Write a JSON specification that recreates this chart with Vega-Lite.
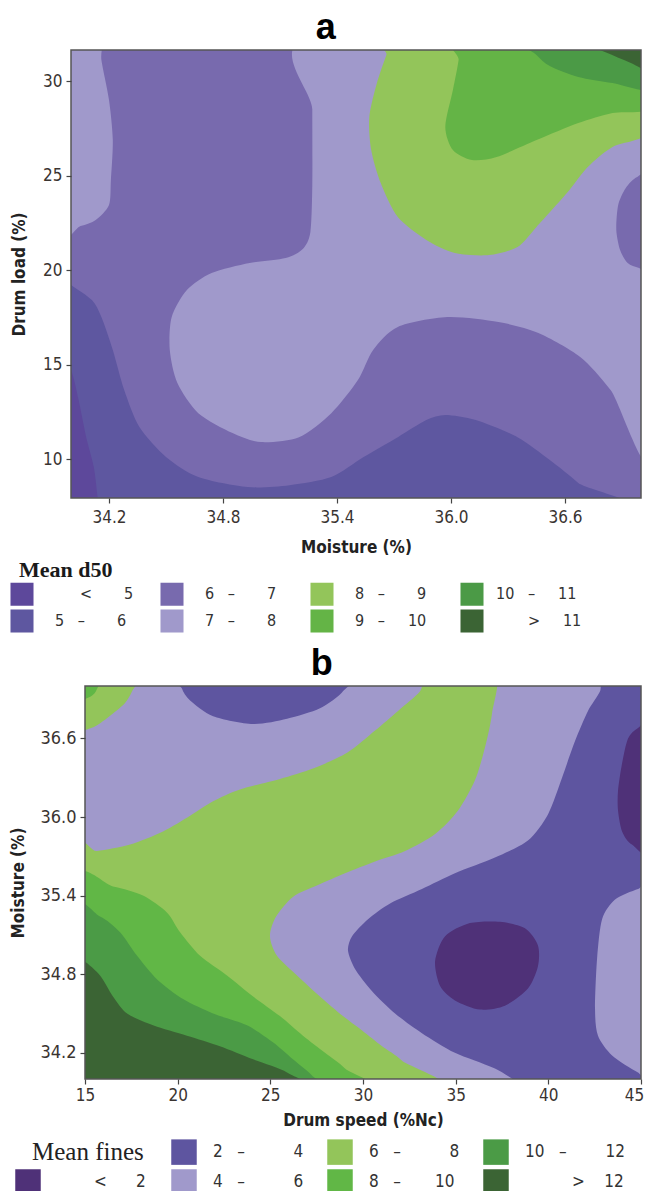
{
  "$schema": "https://vega.github.io/schema/vega-lite/v6.json",
  "padding": {"left": 9, "top": 10, "right": 0, "bottom": 0},
  "spacing": 13,
  "resolve": {"scale": {"color": "independent"}, "legend": {"color": "independent"}},
  "config": {
    "axis": {"domain": false, "grid": false, "tickSize": 5, "tickColor": "#444", "tickWidth": 1.2,
      "labelFont": "DejaVu Sans Condensed, Liberation Sans Narrow, DejaVu Sans", "labelFontSize": 17, "labelColor": "#3a3431",
      "labelPadding": 4, "labelFlush": false, "labelOverlap": false,
      "titleFont": "DejaVu Sans Condensed, Liberation Sans Narrow, DejaVu Sans", "titleFontSize": 17, "titleFontWeight": "bold", "titleColor": "#222"},
    "legend": {"labelFont": "DejaVu Sans Condensed, Liberation Sans Narrow, DejaVu Sans", "labelColor": "#333", "labelLimit": 400,
      "symbolType": "square", "symbolStrokeWidth": 0, "padding": 0, "gridAlign": "all", "direction": "horizontal", "columns": 4},
    "title": {"font": "Liberation Sans", "fontSize": 36, "fontWeight": "bold", "color": "#000", "anchor": "middle", "frame": "bounds", "offset": 2}
  },
  "vconcat": [
    {
      "width": 570, "height": 448,
      "title": {"text": "a"},
      "view": {"fill": "#786aae", "stroke": null},
      "encoding": {
        "x": {"field": "x", "type": "quantitative", "scale": {"domain": [34, 37], "nice": false, "zero": false},
          "axis": {"title": "Moisture (%)", "values": [34.2, 34.8, 35.4, 36.0, 36.6], "format": ".1f", "labelPadding": 6, "titlePadding": 14, "zindex": 2}},
        "y": {"field": "y", "type": "quantitative", "scale": {"domain": [7.95, 31.65], "nice": false, "zero": false},
          "axis": {"title": "Drum load (%)", "values": [10, 15, 20, 25, 30], "titlePadding": 14, "zindex": 2}}
      },
      "layer": [
        {
          "data": {"name": "pa"},
          "mark": {"type": "line", "filled": true, "interpolate": "cardinal-closed", "tension": 0.2, "clip": true, "strokeWidth": 0},
          "encoding": {
            "color": {"field": "c", "type": "nominal",
              "scale": {"domain": ["a1", "a3", "a5", "a7", "a2", "a4", "a6", "a8"],
                "range": ["#5d489b", "#786aae", "#93c55a", "#4b9a46", "#5e57a0", "#a099cb", "#64b446", "#3b6434"]},
              "legend": {"title": "Mean d50", "orient": "none", "legendX": -61, "legendY": 510,
                "columnPadding": 26, "rowPadding": 3, "symbolSize": 530, "labelOffset": 12, "labelFontSize": 16,
                "titleFont": "Liberation Serif", "titleFontSize": 22, "titleFontWeight": "bold", "titleColor": "#1a1a1a", "titlePadding": 0,
                "labelExpr": "{'a1':'<\u00a0\u00a0\u00a0\u00a0\u00a0\u20075','a2':'5\u00a0\u00a0\u00a0\u2013\u00a0\u00a0\u00a0\u00a0\u00a0\u20076','a3':'6\u00a0\u00a0\u00a0\u2013\u00a0\u00a0\u00a0\u00a0\u00a0\u20077','a4':'7\u00a0\u00a0\u00a0\u2013\u00a0\u00a0\u00a0\u00a0\u00a0\u20078','a5':'8\u00a0\u00a0\u00a0\u2013\u00a0\u00a0\u00a0\u00a0\u00a0\u20079','a6':'9\u00a0\u00a0\u00a0\u2013\u00a0\u00a0\u00a0\u00a0\u00a010','a7':'10\u00a0\u00a0\u00a0\u2013\u00a0\u00a0\u00a0\u00a0\u00a011','a8':'>\u00a0\u00a0\u00a0\u00a0\u00a011'}[datum.value]",
                "encode": {
                  "title": {"update": {"dx": {"value": 9}}},
                  "labels": {"update": {"dx": {"signal": "datum.value === 'a1' ? 34 : (datum.value === 'a8' ? 32 : (datum.value === 'a7' ? 0 : 9))"}}}}}},
            "detail": {"field": "p"},
            "order": {"value": null}
          }
        },
        {
          "data": {"name": "fa"},
          "mark": {"type": "rect", "filled": false, "stroke": "#555", "strokeWidth": 1.5},
          "encoding": {"x2": {"field": "x2"}, "y2": {"field": "y2"}}
        }
      ]
    },
    {
      "width": 570, "height": 393,
      "title": {"text": "b", "dx": -5},
      "view": {"stroke": null},
      "encoding": {
        "x": {"field": "x", "type": "quantitative", "scale": {"domain": [14.2446, 45], "nice": false, "zero": false},
          "axis": {"title": "Drum speed (%Nc)", "values": [15, 20, 25, 30, 35, 40, 45], "titleX": 292, "labelPadding": 3, "titlePadding": 9, "zindex": 2,
            "labelOffset": {"condition": {"test": "datum.value === 45", "value": -7}, "value": 0}}},
        "y": {"field": "y", "type": "quantitative", "scale": {"domain": [34, 37], "nice": false, "zero": false},
          "axis": {"title": "Moisture (%)", "values": [34.2, 34.8, 35.4, 36.0, 36.6], "format": ".1f", "offset": -14, "labelFontSize": 18, "titlePadding": 12, "zindex": 2}}
      },
      "layer": [
        {
          "data": {"name": "fb"},
          "mark": {"type": "rect", "color": "#a099cb"},
          "encoding": {"x2": {"field": "x2"}, "y2": {"field": "y2"}}
        },
        {
          "data": {"name": "pb"},
          "mark": {"type": "line", "filled": true, "interpolate": "cardinal-closed", "tension": 0.2, "clip": true, "strokeWidth": 0},
          "encoding": {
            "color": {"field": "c", "type": "nominal",
              "scale": {"domain": ["t", "b2", "b4", "b6", "b1", "b3", "b5", "b7"],
                "range": ["transparent", "#5e55a0", "#93c55a", "#4b9b46", "#4f3178", "#a099cb", "#61b746", "#3b6434"]},
              "legend": {"title": null, "orient": "none", "legendX": -56, "legendY": 453,
                "columnPadding": 14, "rowPadding": 4, "symbolSize": 650, "labelOffset": 16, "labelFontSize": 17,
                "labelExpr": "{'t':'Mean fines','b2':'2\u00a0\u00a0\u00a0\u2013\u00a0\u00a0\u00a0\u00a0\u00a0\u00a0\u00a0\u00a0\u00a0\u00a04','b3':'4\u00a0\u00a0\u00a0\u2013\u00a0\u00a0\u00a0\u00a0\u00a0\u00a0\u00a0\u00a0\u00a0\u00a06','b4':'6\u00a0\u00a0\u00a0\u2013\u00a0\u00a0\u00a0\u00a0\u00a0\u00a0\u00a0\u00a0\u00a0\u00a08','b5':'8\u00a0\u00a0\u00a0\u2013\u00a0\u00a0\u00a0\u00a0\u00a0\u00a0\u00a010','b6':'10\u00a0\u00a0\u00a0\u2013\u00a0\u00a0\u00a0\u00a0\u00a0\u00a0\u00a0\u00a012','b1':'<\u00a0\u00a0\u00a0\u00a0\u00a0\u00a02','b7':'>\u00a0\u00a0\u00a0\u00a012'}[datum.value]",
                "encode": {"labels": {"update": {
                  "font": {"signal": "datum.value === 't' ? 'Liberation Serif' : 'DejaVu Sans Condensed, Liberation Sans Narrow, DejaVu Sans'"},
                  "fontSize": {"signal": "datum.value === 't' ? 25 : 17"},
                  "fill": {"signal": "datum.value === 't' ? '#222' : '#333'"},
                  "dx": {"signal": "datum.value === 't' ? -25 : (datum.value === 'b1' ? 37 : (datum.value === 'b7' ? 47 : 0))"}}}}}},
            "detail": {"field": "p"},
            "order": {"value": null}
          }
        },
        {
          "data": {"name": "wb"},
          "mark": {"type": "rect", "color": "white", "clip": true},
          "encoding": {"x2": {"field": "x2"}, "y2": {"field": "y2"}}
        },
        {
          "data": {"name": "fb"},
          "mark": {"type": "rect", "filled": false, "stroke": "#555", "strokeWidth": 1.5},
          "encoding": {"x2": {"field": "x2"}, "y2": {"field": "y2"}}
        }
      ]
    }
  ],
  "datasets": {
    "fa": [{"x": 34, "x2": 37, "y": 7.95, "y2": 31.65}],
    "fb": [{"x": 15, "x2": 45, "y": 34, "y2": 37}],
    "wb": [{"x": 14.0, "x2": 15, "y": 33.5, "y2": 37.5}],
    "pa": [
      {"p":"A2","c":"a4","x":35.27,"y":32.44},{"p":"A2","c":"a4","x":37.08,"y":32.44},{"p":"A2","c":"a4","x":37.08,"y":10.27},{"p":"A2","c":"a4","x":36.84,"y":13.66},{"p":"A2","c":"a4","x":36.68,"y":15.41},{"p":"A2","c":"a4","x":36.46,"y":16.68},{"p":"A2","c":"a4","x":36.25,"y":17.26},{"p":"A2","c":"a4","x":35.98,"y":17.52},{"p":"A2","c":"a4","x":35.72,"y":17.0},{"p":"A2","c":"a4","x":35.59,"y":15.78},{"p":"A2","c":"a4","x":35.51,"y":14.19},{"p":"A2","c":"a4","x":35.37,"y":12.44},{"p":"A2","c":"a4","x":35.2,"y":11.17},{"p":"A2","c":"a4","x":35.0,"y":10.91},{"p":"A2","c":"a4","x":34.85,"y":11.39},{"p":"A2","c":"a4","x":34.67,"y":12.44},{"p":"A2","c":"a4","x":34.56,"y":14.03},{"p":"A2","c":"a4","x":34.52,"y":15.78},{"p":"A2","c":"a4","x":34.53,"y":17.52},{"p":"A2","c":"a4","x":34.61,"y":18.95},{"p":"A2","c":"a4","x":34.74,"y":19.85},{"p":"A2","c":"a4","x":34.94,"y":20.38},{"p":"A2","c":"a4","x":35.13,"y":20.65},{"p":"A2","c":"a4","x":35.22,"y":21.12},{"p":"A2","c":"a4","x":35.26,"y":22.02},{"p":"A2","c":"a4","x":35.27,"y":24.5},{"p":"A2","c":"a4","x":35.27,"y":28.5},
      {"p":"A1","c":"a4","x":33.92,"y":32.44},{"p":"A1","c":"a4","x":34.15,"y":32.44},{"p":"A1","c":"a4","x":34.16,"y":31.12},{"p":"A1","c":"a4","x":34.2,"y":29.0},{"p":"A1","c":"a4","x":34.22,"y":26.89},{"p":"A1","c":"a4","x":34.21,"y":24.77},{"p":"A1","c":"a4","x":34.2,"y":23.45},{"p":"A1","c":"a4","x":34.13,"y":22.66},{"p":"A1","c":"a4","x":34.05,"y":22.34},{"p":"A1","c":"a4","x":33.92,"y":22.1},
      {"p":"A3","c":"a5","x":35.7,"y":32.44},{"p":"A3","c":"a5","x":37.08,"y":32.44},{"p":"A3","c":"a5","x":37.08,"y":27.63},{"p":"A3","c":"a5","x":36.85,"y":26.52},{"p":"A3","c":"a5","x":36.72,"y":25.46},{"p":"A3","c":"a5","x":36.61,"y":24.08},{"p":"A3","c":"a5","x":36.45,"y":22.29},{"p":"A3","c":"a5","x":36.35,"y":21.23},{"p":"A3","c":"a5","x":36.2,"y":20.8},{"p":"A3","c":"a5","x":36.02,"y":20.91},{"p":"A3","c":"a5","x":35.87,"y":21.6},{"p":"A3","c":"a5","x":35.72,"y":22.81},{"p":"A3","c":"a5","x":35.63,"y":24.61},{"p":"A3","c":"a5","x":35.58,"y":26.36},{"p":"A3","c":"a5","x":35.57,"y":28.1},{"p":"A3","c":"a5","x":35.61,"y":29.9},{"p":"A3","c":"a5","x":35.66,"y":31.39},
      {"p":"A4","c":"a6","x":36.05,"y":32.44},{"p":"A4","c":"a6","x":37.08,"y":32.44},{"p":"A4","c":"a6","x":37.08,"y":28.74},{"p":"A4","c":"a6","x":36.85,"y":28.32},{"p":"A4","c":"a6","x":36.67,"y":27.79},{"p":"A4","c":"a6","x":36.45,"y":26.89},{"p":"A4","c":"a6","x":36.24,"y":25.99},{"p":"A4","c":"a6","x":36.11,"y":25.83},{"p":"A4","c":"a6","x":36.01,"y":26.36},{"p":"A4","c":"a6","x":35.97,"y":27.58},{"p":"A4","c":"a6","x":36.01,"y":29.53},{"p":"A4","c":"a6","x":36.04,"y":31.12},
      {"p":"A5","c":"a7","x":36.36,"y":32.44},{"p":"A5","c":"a7","x":37.08,"y":32.44},{"p":"A5","c":"a7","x":37.08,"y":29.59},{"p":"A5","c":"a7","x":36.85,"y":29.9},{"p":"A5","c":"a7","x":36.67,"y":30.22},{"p":"A5","c":"a7","x":36.52,"y":30.8},{"p":"A5","c":"a7","x":36.45,"y":31.39},
      {"p":"A6","c":"a8","x":36.63,"y":32.44},{"p":"A6","c":"a8","x":37.08,"y":32.44},{"p":"A6","c":"a8","x":37.08,"y":30.43},{"p":"A6","c":"a8","x":36.95,"y":30.95},{"p":"A6","c":"a8","x":36.81,"y":31.54},{"p":"A6","c":"a8","x":36.73,"y":31.9},
      {"p":"A7","c":"a3","x":37.08,"y":25.1},{"p":"A7","c":"a3","x":36.98,"y":24.93},{"p":"A7","c":"a3","x":36.92,"y":24.35},{"p":"A7","c":"a3","x":36.88,"y":23.45},{"p":"A7","c":"a3","x":36.87,"y":22.13},{"p":"A7","c":"a3","x":36.89,"y":21.07},{"p":"A7","c":"a3","x":36.93,"y":20.38},{"p":"A7","c":"a3","x":36.99,"y":20.12},{"p":"A7","c":"a3","x":37.08,"y":19.95},
      {"p":"A8","c":"a2","x":33.92,"y":19.75},{"p":"A8","c":"a2","x":34.0,"y":19.22},{"p":"A8","c":"a2","x":34.11,"y":18.42},{"p":"A8","c":"a2","x":34.16,"y":17.52},{"p":"A8","c":"a2","x":34.22,"y":15.78},{"p":"A8","c":"a2","x":34.28,"y":13.66},{"p":"A8","c":"a2","x":34.36,"y":11.7},{"p":"A8","c":"a2","x":34.5,"y":10.12},{"p":"A8","c":"a2","x":34.67,"y":9.06},{"p":"A8","c":"a2","x":34.93,"y":8.53},{"p":"A8","c":"a2","x":35.15,"y":8.63},{"p":"A8","c":"a2","x":35.37,"y":9.06},{"p":"A8","c":"a2","x":35.54,"y":10.12},{"p":"A8","c":"a2","x":35.72,"y":11.17},{"p":"A8","c":"a2","x":35.87,"y":12.07},{"p":"A8","c":"a2","x":35.97,"y":12.34},{"p":"A8","c":"a2","x":36.13,"y":12.07},{"p":"A8","c":"a2","x":36.35,"y":11.17},{"p":"A8","c":"a2","x":36.52,"y":9.96},{"p":"A8","c":"a2","x":36.67,"y":8.74},{"p":"A8","c":"a2","x":36.83,"y":7.15},{"p":"A8","c":"a2","x":33.92,"y":7.15},
      {"p":"A9","c":"a1","x":33.92,"y":16.0},{"p":"A9","c":"a1","x":34.0,"y":14.72},{"p":"A9","c":"a1","x":34.04,"y":13.13},{"p":"A9","c":"a1","x":34.08,"y":11.17},{"p":"A9","c":"a1","x":34.12,"y":9.59},{"p":"A9","c":"a1","x":34.14,"y":8.0},{"p":"A9","c":"a1","x":34.15,"y":7.15},{"p":"A9","c":"a1","x":33.92,"y":7.15}
    ],
    "pb": [
      {"p":"B1","c":"b2","x":43.06,"y":37.11},{"p":"B1","c":"b2","x":45.81,"y":37.11},{"p":"B1","c":"b2","x":45.81,"y":33.89},{"p":"B1","c":"b2","x":39.9,"y":33.89},{"p":"B1","c":"b2","x":37.12,"y":34.08},{"p":"B1","c":"b2","x":34.96,"y":34.2},{"p":"B1","c":"b2","x":33.18,"y":34.35},{"p":"B1","c":"b2","x":31.73,"y":34.5},{"p":"B1","c":"b2","x":30.49,"y":34.67},{"p":"B1","c":"b2","x":29.57,"y":34.84},{"p":"B1","c":"b2","x":29.19,"y":34.98},{"p":"B1","c":"b2","x":29.41,"y":35.09},{"p":"B1","c":"b2","x":30.27,"y":35.22},{"p":"B1","c":"b2","x":31.46,"y":35.34},{"p":"B1","c":"b2","x":33.18,"y":35.45},{"p":"B1","c":"b2","x":34.96,"y":35.57},{"p":"B1","c":"b2","x":37.12,"y":35.69},{"p":"B1","c":"b2","x":38.9,"y":35.82},{"p":"B1","c":"b2","x":39.98,"y":36.02},{"p":"B1","c":"b2","x":40.74,"y":36.3},{"p":"B1","c":"b2","x":41.44,"y":36.58},{"p":"B1","c":"b2","x":42.14,"y":36.81},{"p":"B1","c":"b2","x":42.79,"y":36.96},
      {"p":"B2","c":"b2","x":20.13,"y":37.11},{"p":"B2","c":"b2","x":29.14,"y":37.11},{"p":"B2","c":"b2","x":28.92,"y":36.96},{"p":"B2","c":"b2","x":27.68,"y":36.83},{"p":"B2","c":"b2","x":25.9,"y":36.75},{"p":"B2","c":"b2","x":24.07,"y":36.71},{"p":"B2","c":"b2","x":21.91,"y":36.77},{"p":"B2","c":"b2","x":20.67,"y":36.89},{"p":"B2","c":"b2","x":20.23,"y":36.98},
      {"p":"B3","c":"b4","x":14.3,"y":35.72},{"p":"B3","c":"b4","x":15.65,"y":35.74},{"p":"B3","c":"b4","x":17.43,"y":35.79},{"p":"B3","c":"b4","x":19.21,"y":35.89},{"p":"B3","c":"b4","x":20.67,"y":36.01},{"p":"B3","c":"b4","x":21.91,"y":36.12},{"p":"B3","c":"b4","x":23.36,"y":36.21},{"p":"B3","c":"b4","x":25.52,"y":36.29},{"p":"B3","c":"b4","x":27.3,"y":36.37},{"p":"B3","c":"b4","x":29.14,"y":36.49},{"p":"B3","c":"b4","x":30.65,"y":36.66},{"p":"B3","c":"b4","x":31.89,"y":36.81},{"p":"B3","c":"b4","x":33.08,"y":36.96},{"p":"B3","c":"b4","x":33.6,"y":37.11},{"p":"B3","c":"b4","x":37.07,"y":37.11},{"p":"B3","c":"b4","x":36.96,"y":36.79},{"p":"B3","c":"b4","x":36.58,"y":36.53},{"p":"B3","c":"b4","x":36.04,"y":36.28},{"p":"B3","c":"b4","x":35.13,"y":36.05},{"p":"B3","c":"b4","x":33.89,"y":35.87},{"p":"B3","c":"b4","x":32.27,"y":35.74},{"p":"B3","c":"b4","x":30.65,"y":35.66},{"p":"B3","c":"b4","x":29.03,"y":35.57},{"p":"B3","c":"b4","x":27.57,"y":35.48},{"p":"B3","c":"b4","x":26.22,"y":35.39},{"p":"B3","c":"b4","x":25.31,"y":35.24},{"p":"B3","c":"b4","x":24.98,"y":35.09},{"p":"B3","c":"b4","x":25.36,"y":34.94},{"p":"B3","c":"b4","x":26.44,"y":34.79},{"p":"B3","c":"b4","x":27.68,"y":34.63},{"p":"B3","c":"b4","x":28.92,"y":34.48},{"p":"B3","c":"b4","x":29.95,"y":34.37},{"p":"B3","c":"b4","x":31.03,"y":34.25},{"p":"B3","c":"b4","x":32.11,"y":34.14},{"p":"B3","c":"b4","x":33.78,"y":33.89},{"p":"B3","c":"b4","x":14.3,"y":33.89},
      {"p":"B4","c":"b4","x":14.3,"y":37.11},{"p":"B4","c":"b4","x":17.9,"y":37.11},{"p":"B4","c":"b4","x":17.54,"y":36.96},{"p":"B4","c":"b4","x":17.16,"y":36.87},{"p":"B4","c":"b4","x":16.51,"y":36.79},{"p":"B4","c":"b4","x":15.65,"y":36.7},{"p":"B4","c":"b4","x":14.95,"y":36.66},{"p":"B4","c":"b4","x":14.3,"y":36.64},
      {"p":"B5","c":"b5","x":14.3,"y":37.11},{"p":"B5","c":"b5","x":15.85,"y":37.11},{"p":"B5","c":"b5","x":15.59,"y":36.96},{"p":"B5","c":"b5","x":15.16,"y":36.91},{"p":"B5","c":"b5","x":14.3,"y":36.88},
      {"p":"B6","c":"b5","x":14.3,"y":35.5},{"p":"B6","c":"b5","x":16.51,"y":35.47},{"p":"B6","c":"b5","x":18.13,"y":35.4},{"p":"B6","c":"b5","x":19.43,"y":35.27},{"p":"B6","c":"b5","x":20.13,"y":35.12},{"p":"B6","c":"b5","x":21.21,"y":34.94},{"p":"B6","c":"b5","x":22.66,"y":34.79},{"p":"B6","c":"b5","x":24.07,"y":34.63},{"p":"B6","c":"b5","x":25.52,"y":34.48},{"p":"B6","c":"b5","x":26.76,"y":34.33},{"p":"B6","c":"b5","x":27.95,"y":34.2},{"p":"B6","c":"b5","x":29.03,"y":34.08},{"p":"B6","c":"b5","x":30.1,"y":33.89},{"p":"B6","c":"b5","x":14.3,"y":33.89},
      {"p":"B7","c":"b6","x":14.3,"y":35.28},{"p":"B7","c":"b6","x":15.81,"y":35.24},{"p":"B7","c":"b6","x":16.89,"y":35.12},{"p":"B7","c":"b6","x":17.81,"y":34.94},{"p":"B7","c":"b6","x":18.89,"y":34.76},{"p":"B7","c":"b6","x":20.29,"y":34.61},{"p":"B7","c":"b6","x":21.91,"y":34.5},{"p":"B7","c":"b6","x":23.74,"y":34.41},{"p":"B7","c":"b6","x":25.14,"y":34.28},{"p":"B7","c":"b6","x":26.22,"y":34.15},{"p":"B7","c":"b6","x":27.3,"y":34.02},{"p":"B7","c":"b6","x":27.95,"y":33.89},{"p":"B7","c":"b6","x":14.3,"y":33.89},
      {"p":"B8","c":"b7","x":14.3,"y":34.93},{"p":"B8","c":"b7","x":14.95,"y":34.9},{"p":"B8","c":"b7","x":15.81,"y":34.79},{"p":"B8","c":"b7","x":16.51,"y":34.63},{"p":"B8","c":"b7","x":17.27,"y":34.5},{"p":"B8","c":"b7","x":18.67,"y":34.41},{"p":"B8","c":"b7","x":20.5,"y":34.33},{"p":"B8","c":"b7","x":22.28,"y":34.25},{"p":"B8","c":"b7","x":24.07,"y":34.15},{"p":"B8","c":"b7","x":25.9,"y":34.05},{"p":"B8","c":"b7","x":26.8,"y":33.89},{"p":"B8","c":"b7","x":14.3,"y":33.89},
      {"p":"B9","c":"b1","x":45.81,"y":36.73},{"p":"B9","c":"b1","x":44.84,"y":36.68},{"p":"B9","c":"b1","x":44.3,"y":36.6},{"p":"B9","c":"b1","x":43.98,"y":36.41},{"p":"B9","c":"b1","x":43.76,"y":36.2},{"p":"B9","c":"b1","x":43.76,"y":36.05},{"p":"B9","c":"b1","x":43.98,"y":35.89},{"p":"B9","c":"b1","x":44.51,"y":35.79},{"p":"B9","c":"b1","x":45.81,"y":35.73},
      {"p":"B10","c":"b1","x":33.89,"y":34.9},{"p":"B10","c":"b1","x":34.43,"y":35.09},{"p":"B10","c":"b1","x":35.77,"y":35.19},{"p":"B10","c":"b1","x":37.39,"y":35.2},{"p":"B10","c":"b1","x":38.74,"y":35.15},{"p":"B10","c":"b1","x":39.44,"y":35.02},{"p":"B10","c":"b1","x":39.44,"y":34.86},{"p":"B10","c":"b1","x":38.9,"y":34.69},{"p":"B10","c":"b1","x":37.66,"y":34.56},{"p":"B10","c":"b1","x":36.31,"y":34.53},{"p":"B10","c":"b1","x":34.96,"y":34.6},{"p":"B10","c":"b1","x":34.16,"y":34.71},
      {"p":"B11","c":"b3","x":45.81,"y":35.48},{"p":"B11","c":"b3","x":44.84,"y":35.45},{"p":"B11","c":"b3","x":43.6,"y":35.37},{"p":"B11","c":"b3","x":42.9,"y":35.22},{"p":"B11","c":"b3","x":42.63,"y":34.92},{"p":"B11","c":"b3","x":42.52,"y":34.53},{"p":"B11","c":"b3","x":42.68,"y":34.33},{"p":"B11","c":"b3","x":43.44,"y":34.18},{"p":"B11","c":"b3","x":44.84,"y":34.05},{"p":"B11","c":"b3","x":45.81,"y":34.0}
    ]
  }
}
